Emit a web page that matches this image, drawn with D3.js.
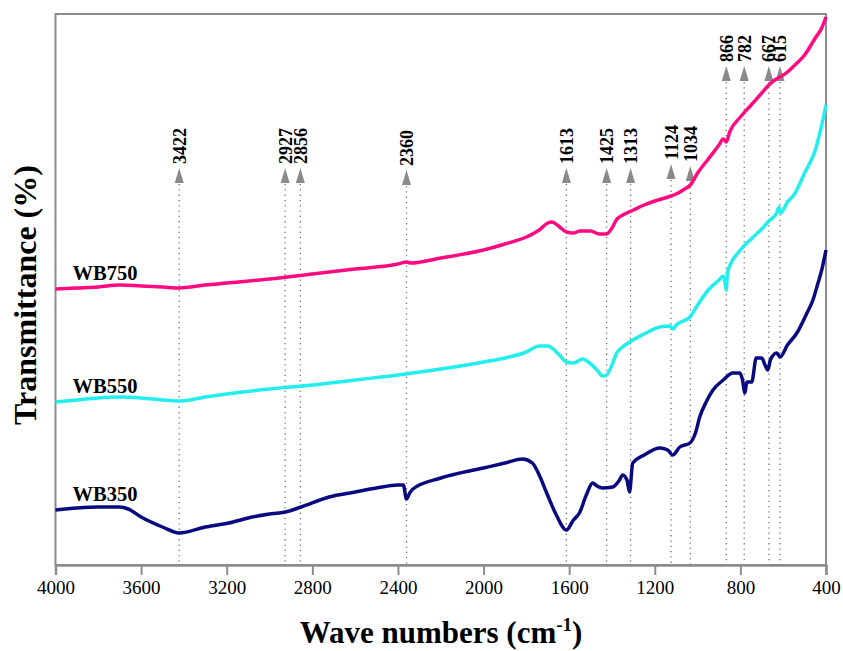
<!DOCTYPE html>
<html>
<head>
<meta charset="utf-8">
<script src="https://cdn.jsdelivr.net/npm/d3@7"></script>
<style>
  body { margin: 0; background: #fff; }
</style>
</head>
<body>
<div class="chart"></div>
<script>
// series names
var seriesNames = ["WB750", "WB550", "WB350"];

// [wave number, transmittance (a.u.)]
var wb750 = [[4000,276],[3900,277],[3800,278],[3700,280],[3600,279],[3500,278],[3422,277],[3300,280],[3200,282],[3000,286],[2800,291],[2600,296],[2400,301],[2360,303],[2340,302],[2200,307],[2000,315],[1900,321],[1800,328],[1740,335],[1700,342],[1680,343],[1650,339],[1613,333],[1580,332],[1550,334],[1500,334],[1460,331],[1425,331],[1400,337],[1380,345],[1350,350],[1300,355],[1250,360],[1200,364],[1124,369],[1100,371],[1060,376],[1034,380],[1000,392],[950,406],[900,420],[880,426],[866,423],[850,433],[800,448],[750,460],[700,472],[667,480],[640,485],[615,488],[580,493],[550,499],[500,510],[450,527],[420,537],[400,548]];

var wb550 = [[4000,163],[3900,165],[3800,167],[3700,168],[3600,167],[3500,165],[3422,164],[3300,168],[3200,171],[3000,176],[2800,180],[2600,185],[2400,190],[2200,196],[2000,203],[1900,207],[1800,213],[1740,219],[1700,219],[1650,211],[1613,203],[1580,202],[1537,206],[1505,202],[1470,195],[1444,189],[1425,190],[1400,200],[1378,212],[1350,218],[1318,223],[1250,231],[1177,238],[1130,239],[1115,236],[1100,240],[1036,248],[1000,260],[950,275],[900,285],[880,289],[870,280],[866,275],[860,293],[800,315],[750,326],[700,336],[667,344],[630,352],[620,358],[612,352],[580,363],[550,370],[500,392],[450,415],[420,440],[400,460]];

var wb350 = [[4000,55],[3900,57],[3800,58],[3700,58],[3660,56],[3600,48],[3500,38],[3422,32],[3300,38],[3190,42],[3100,47],[3000,51],[2956,52],[2927,53],[2852,58],[2722,68],[2600,73],[2500,77],[2400,80],[2375,80],[2360,66],[2345,72],[2330,76],[2200,87],[2000,97],[1900,102],[1818,106],[1772,102],[1740,90],[1705,72],[1660,50],[1613,35],[1580,45],[1552,52],[1520,70],[1490,82],[1470,79],[1444,77],[1397,78],[1365,85],[1350,90],[1330,85],[1318,73],[1303,102],[1250,110],[1177,117],[1140,115],[1116,110],[1083,118],[1036,122],[1010,132],[990,148],[960,163],[928,175],[880,185],[835,192],[803,192],[790,185],[779,172],[770,183],[747,183],[726,207],[700,207],[685,200],[672,195],[660,205],[630,212],[615,208],[580,220],[536,232],[489,252],[461,265],[440,280],[420,295],[400,315]];

// marked peaks and the level (same units) of their arrow tips
var peaks =      [3422, 2927, 2856, 2360, 1613, 1425, 1313, 1124, 1034, 866, 782, 667, 615];
var peakLevels = [397,  397,  397,  395,  397,  397,  397,  401,  399,  499, 499, 499, 499];

var xTicks = [4000, 3600, 3200, 2800, 2400, 2000, 1600, 1200, 800, 400];

var serif = "'Liberation Serif', 'Times New Roman', serif";

var svgWidth = 843, svgHeight = 651;
var margin = {top: 14, right: 17, bottom: 86, left: 55.5};
var width = svgWidth - margin.left - margin.right;
var height = svgHeight - margin.top - margin.bottom;

var svg = d3.select(".chart").append("svg")
    .attr("width", svgWidth)
    .attr("height", svgHeight);

var chartGroup = svg.append("g")
    .attr("transform", `translate(${margin.left}, ${margin.top})`);

var xScale = d3.scaleLinear().domain([4000, 400]).range([0, width]);
var yScale = d3.scaleLinear().domain([0, 551]).range([height, 0]);

// frame
chartGroup.append("rect")
    .attr("width", width)
    .attr("height", height)
    .attr("fill", "none")
    .attr("stroke", "#8c8c8c")
    .attr("stroke-width", 2);

// peak markers
var marks = chartGroup.selectAll(".peak")
    .data(peaks)
    .enter()
    .append("g")
    .attr("class", "peak")
    .attr("transform", (d, i) => `translate(${xScale(d)}, ${yScale(peakLevels[i])})`);

marks.append("line")
    .attr("y1", 16)
    .attr("y2", (d, i) => height - yScale(peakLevels[i]))
    .attr("stroke", "#777")
    .attr("stroke-width", 1.3)
    .attr("stroke-dasharray", "1.3,4");

marks.append("path")
    .attr("d", "M0,0 L4.5,15 L-4.5,15 Z")
    .attr("fill", "#8a8a8a");

marks.append("text")
    .attr("transform", "rotate(-90)")
    .attr("x", 4)
    .attr("y", 6.5)
    .attr("font-family", serif)
    .attr("font-weight", "bold")
    .attr("font-size", 18)
    .text(d => d);

// spectra
var colors = ["#ff0a80", "#22eeee", "#0a0a80"];
var allSeries = [wb750, wb550, wb350];
var line = d3.line()
    .x(d => xScale(d[0]))
    .y(d => yScale(d[1]))
    .curve(d3.curveMonotoneX);

chartGroup.selectAll(".spectrum")
    .data(allSeries)
    .enter()
    .append("path")
    .attr("class", "spectrum")
    .attr("d", line)
    .attr("fill", "none")
    .attr("stroke", (d, i) => colors[i])
    .attr("stroke-width", 3.5)
    .attr("stroke-linejoin", "round");

chartGroup.selectAll(".seriesLabel")
    .data(allSeries)
    .enter()
    .append("text")
    .attr("class", "seriesLabel")
    .attr("x", xScale(3920))
    .attr("y", d => yScale(d[0][1]) - 9)
    .attr("font-family", serif)
    .attr("font-weight", "bold")
    .attr("font-size", 20.5)
    .text((d, i) => seriesNames[i]);

// x axis
var xAxis = d3.axisBottom(xScale)
    .tickValues(xTicks)
    .tickSize(10)
    .tickPadding(6)
    .tickFormat(d3.format("d"));

var axisG = chartGroup.append("g")
    .attr("transform", `translate(0, ${height})`)
    .call(xAxis)
    .attr("font-family", serif);
axisG.select(".domain").attr("stroke", "#8c8c8c").attr("stroke-width", 2.5);
axisG.selectAll(".tick line").attr("stroke", "#8c8c8c").attr("stroke-width", 2);
axisG.selectAll(".tick text")
    .attr("font-family", serif)
    .attr("font-size", 19)
    .attr("fill", "#000");

// axis titles
var xTitle = chartGroup.append("text")
    .attr("x", (300 + 582) / 2 - margin.left)
    .attr("y", height + 78)
    .attr("text-anchor", "middle")
    .attr("font-family", serif)
    .attr("font-weight", "bold")
    .attr("font-size", 31);
xTitle.append("tspan").text("Wave numbers (cm");
xTitle.append("tspan").attr("dy", -12).attr("font-size", 19).text("-1");
xTitle.append("tspan").attr("dy", 12).text(")");

chartGroup.append("text")
    .attr("transform", "rotate(-90)")
    .attr("x", -(height / 2 + 5.5))
    .attr("y", -19.5)
    .attr("text-anchor", "middle")
    .attr("font-family", serif)
    .attr("font-weight", "bold")
    .attr("font-size", 32)
    .text("Transmittance (%)");
</script>
</body>
</html>
